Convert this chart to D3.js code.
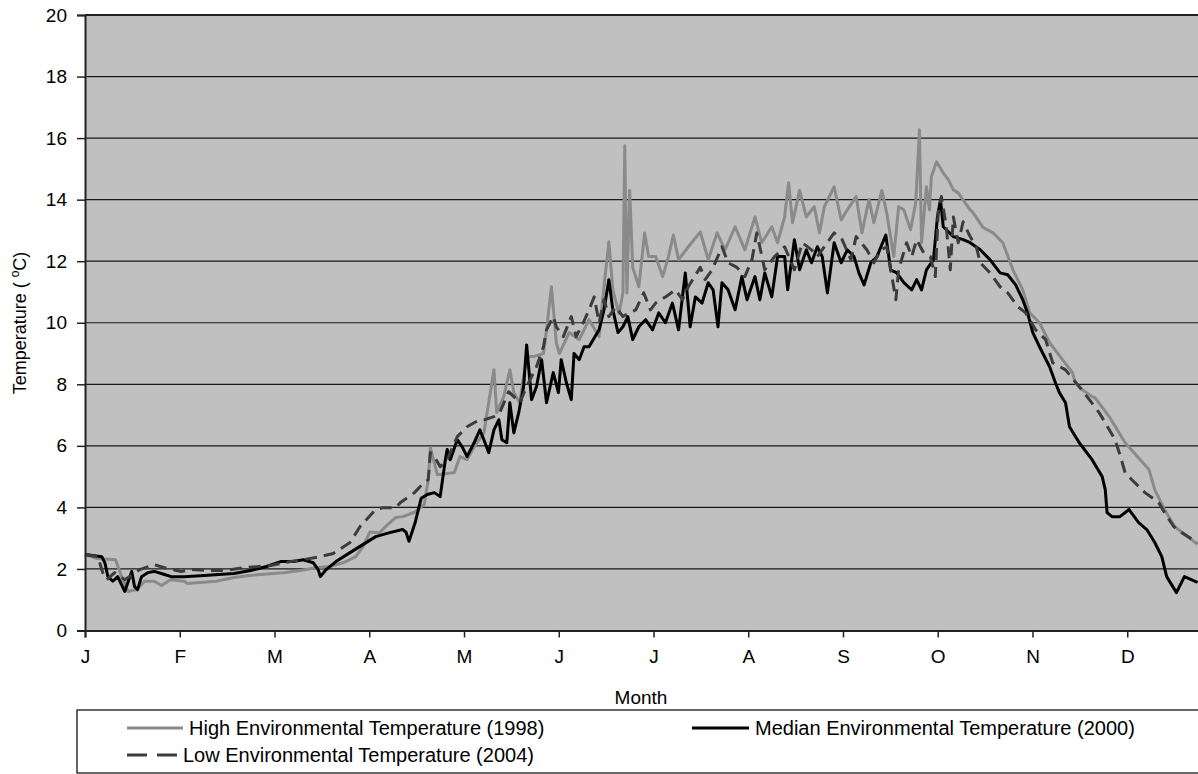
<!DOCTYPE html>
<html>
<head>
<meta charset="utf-8">
<script src="https://cdn.jsdelivr.net/npm/d3@7"></script>
<style>
  html, body { margin: 0; padding: 0; background: #fff; }
  svg { display: block; font-family: "Liberation Sans", Arial, sans-serif; }
</style>
</head>
<body>
<svg id="chart" width="1198" height="774"></svg>
<script>
// ---- data (day of year, °C) ----
const monthLabels = ["J","F","M","A","M","J","J","A","S","O","N","D"];
const monthTickDays = [0,31,62,93,124,155,186,217,248,279,310,341];
const yTickValues = [0,2,4,6,8,10,12,14,16,18,20];

const high1998 = [
[0,2.47],[4,2.34],[10,2.3],[12,1.75],[14,1.27],[17,1.33],[19.5,1.6],[22.7,1.6],[25,1.46],[28,1.65],
[32.5,1.6],[33.4,1.53],[43,1.6],[48.7,1.72],[54,1.79],[65,1.88],[70.5,1.95],[75.6,2.04],[80,2.08],
[84.4,2.2],[88.6,2.4],[91,2.73],[93.2,3.2],[96.4,3.18],[98.4,3.38],[101.6,3.67],[104,3.7],[108,3.85],
[111,4.1],[112.3,4.9],[113,5.94],[115.3,5.06],[120.8,5.13],[122.7,5.65],[125,5.55],[127.3,5.97],
[130.5,6.42],[133.8,8.47],[134.7,7.08],[137,7.6],[139,8.47],[140.3,7.73],[142.2,7.4],[144.5,8.9],
[146.8,8.9],[150,9.0],[151,9.77],[152.6,11.17],[154.2,9.35],[155.2,9.0],[158.4,9.68],[161.7,9.45],
[164.9,10.1],[168.2,9.55],[169.8,11.17],[171.4,12.63],[172.7,11.07],[174.7,10.3],[176,10.97],
[176.6,15.75],[177.3,10.97],[178.2,14.3],[179.2,11.8],[181.2,11.17],[183.1,12.92],[184.4,12.15],
[186.7,12.15],[189,11.5],[190.9,12.15],[192.5,12.85],[194.2,12.05],[197.4,12.47],[201.3,12.95],
[203.9,12.05],[206.8,12.92],[209.4,12.37],[212.7,13.12],[215.9,12.37],[219.2,13.44],[221.4,12.6],
[224.7,13.12],[226.6,12.6],[228.9,13.44],[230.2,14.55],[231.5,13.25],[233.8,14.3],[236,13.44],
[238.6,13.77],[240.3,12.92],[241.9,13.77],[245.1,14.42],[247.4,13.34],[249.4,13.67],[252.3,14.1],
[254.2,12.92],[256.5,14.0],[258.1,13.25],[260.7,14.3],[262.3,13.57],[264.6,12.15],[266.2,13.77],
[267.9,13.67],[270.1,13.02],[271.8,13.9],[273,16.27],[273.7,12.6],[275.3,14.42],[276.3,13.67],
[276.9,14.74],[278.6,15.23],[280.8,14.87],[282.5,14.64],[284.1,14.32],[285.7,14.22],[289.6,13.67],
[290.6,13.57],[293.8,13.1],[297.1,12.92],[300.3,12.6],[303.6,11.72],[306.8,11.07],[309.1,10.32],
[312.3,10.0],[315.6,9.35],[319.8,8.8],[323.1,8.38],[324,8.05],[326.3,7.82],[329.5,7.6],[330.5,7.56],
[335.1,6.95],[340.3,6.1],[348.1,5.23],[350,4.58],[353.2,3.93],[356.5,3.38],[364,2.8]
];

const median2000 = [
[0,2.47],[5.5,2.4],[6.5,2.2],[7.5,1.75],[9.1,1.6],[10.7,1.75],[13,1.27],[15.3,1.92],[16.2,1.43],
[17.2,1.33],[18.5,1.75],[20.5,1.88],[22.7,1.92],[26,1.82],[28.2,1.75],[32.5,1.75],[39,1.79],
[48.7,1.85],[54.2,1.95],[59.4,2.08],[64,2.24],[68.2,2.24],[71.4,2.3],[74.7,2.2],[76.3,1.98],[77,1.75],
[78.9,1.98],[82.1,2.24],[86.7,2.53],[90.9,2.79],[95.1,3.05],[99.7,3.18],[103.9,3.28],[105,3.2],
[106,2.9],[108,3.5],[110,4.3],[112,4.42],[114.3,4.48],[116.2,4.35],[117.9,5.55],[118.5,5.88],
[119.5,5.55],[121.8,6.2],[123.4,5.97],[125,5.65],[127.3,6.1],[129.2,6.52],[130.5,6.2],[132.1,5.78],
[133.8,6.52],[135.4,6.85],[136.4,6.2],[138,6.1],[139,7.4],[140.3,6.42],[141.9,7.08],[143.5,7.92],
[144.5,9.28],[146.1,7.5],[147.7,7.92],[149.4,8.8],[151,7.4],[153.2,8.38],[154.9,7.73],[155.8,8.8],
[157.5,8.05],[159.1,7.5],[160,9.0],[161.7,8.8],[163.3,9.22],[164.9,9.22],[168.2,9.77],[169.8,10.42],
[171.4,11.4],[172.7,10.42],[174.4,9.68],[176,9.87],[177.6,10.2],[179.2,9.45],[181.2,9.87],[183.4,10.1],
[185.7,9.77],[187.7,10.32],[189.9,10.0],[192.2,10.64],[194.2,9.77],[196.4,11.62],[198,9.87],
[199.7,10.84],[201.9,10.64],[203.9,11.3],[205.5,11.07],[207.1,9.87],[208.4,11.3],[210.4,11.07],
[212.7,10.42],[214.9,11.5],[216.6,10.75],[219.2,11.5],[220.8,10.75],[222.4,11.62],[224.7,10.84],
[226.6,12.15],[228.9,12.15],[229.9,11.07],[232.1,12.7],[233.8,11.72],[236,12.37],[237.7,11.95],
[239.6,12.47],[241.2,12.15],[242.9,10.97],[245.1,12.6],[247.4,11.95],[249.4,12.37],[251.6,12.15],
[253.2,11.62],[254.9,11.23],[257.1,11.95],[259.1,12.15],[262,12.85],[263.6,11.72],[265.6,11.62],
[267.9,11.3],[270.5,11.07],[272.1,11.4],[273.7,11.07],[275.3,11.72],[277.6,12.05],[278.9,13.44],
[279.9,14.0],[280.8,13.12],[284.1,12.8],[287.3,12.7],[289.6,12.6],[292.9,12.37],[296.1,12.05],
[299.4,11.62],[301.9,11.56],[304.5,11.23],[306.8,10.75],[308.4,10.32],[310.1,9.68],[312.3,9.22],
[315.6,8.57],[317.5,8.05],[318.8,7.73],[320.8,7.4],[322.1,6.62],[325.3,6.1],[329.5,5.55],[332.8,5.0],
[333.8,4.58],[334.4,3.83],[336,3.7],[338.6,3.7],[341.6,3.93],[344.8,3.5],[347.4,3.28],[350,2.86],
[352.3,2.4],[353.9,1.75],[357.1,1.23],[359.7,1.75],[364,1.56]
];

const low2004 = [
[0,2.47],[4.2,2.4],[5.8,1.88],[7.1,1.65],[9.7,1.88],[13,1.65],[17.9,1.98],[22.7,2.14],[26,2.04],
[31.5,1.92],[34.7,1.98],[41.2,1.95],[45.5,1.95],[52,2.04],[60.7,2.11],[67.2,2.24],[71.4,2.3],[77,2.4],
[81.2,2.5],[86.7,2.86],[90,3.38],[95.1,3.93],[97.4,3.99],[101.6,3.99],[103.2,4.16],[107.8,4.48],
[109.7,4.68],[112.3,4.9],[113,5.78],[114.3,5.65],[116.2,5.32],[118.5,5.55],[121.8,6.3],[125,6.62],
[127.3,6.75],[129.2,6.85],[130.8,6.85],[133.8,6.95],[135.7,7.08],[138.6,7.76],[140.3,7.6],[142.2,7.4],
[144.5,7.92],[147.7,8.57],[150,9.22],[151,9.77],[153.2,10.2],[154.2,9.87],[156.5,9.55],[159.1,10.2],
[160.7,9.55],[163,10.0],[164.9,10.42],[166.6,10.84],[168.2,10.0],[169.8,10.75],[171.4,10.2],
[173.7,10.52],[176,10.2],[177.9,10.32],[180.2,10.42],[182.8,10.97],[185,10.42],[186.7,10.64],
[189.9,10.84],[193.2,11.07],[195.5,10.75],[197.4,11.17],[201.3,11.8],[202.9,11.4],[205.2,11.72],
[208.4,12.47],[210.4,11.95],[213.3,11.8],[215.9,11.5],[218.2,12.05],[219.8,12.92],[222.4,11.72],
[225.6,12.15],[228.9,12.47],[232.1,11.72],[234.7,12.6],[237.7,12.37],[239.6,12.15],[245.1,12.92],
[247.7,12.7],[250.6,12.05],[252.3,12.8],[255.8,12.37],[258.1,11.95],[260.4,12.37],[262.3,12.47],
[265.3,10.75],[266.2,11.72],[268.8,12.6],[270.5,12.15],[272.1,12.7],[274.4,12.27],[276.6,12.15],
[278.2,11.5],[279.2,13.67],[280.2,14.1],[281.8,13.12],[283.1,11.72],[284.1,13.44],[285.7,12.6],
[287.3,13.28],[289.6,12.8],[291.6,12.47],[292.9,11.95],[296.1,11.62],[299.4,11.17],[301.9,10.97],
[305.2,10.52],[307.8,10.32],[311,9.77],[314.3,9.45],[316.6,8.7],[320.8,8.47],[325.3,7.92],[328.6,7.5],
[331.8,7.08],[333.8,6.75],[337,6.2],[338.6,5.71],[340.3,5.13],[342.5,4.9],[346.8,4.48],[351.3,4.16],
[353.2,3.83],[356.2,3.38],[358.8,3.18],[364,2.86]
];

const seriesNames = ["High Environmental Temperature (1998)", "Median Environmental Temperature (2000)", "Low Environmental Temperature (2004)"];

// ---- layout ----
(function () {
const svg = d3.select("#chart");
const mLeft = 85, mTop = 15, mBottom = 630.5, mRight = 1222;
const x = d3.scaleLinear().domain([0, 372]).range([mLeft, mRight]);
const y = d3.scaleLinear().domain([0, 20]).range([mBottom, mTop]);

svg.append("rect").attr("x", mLeft).attr("y", mTop)
  .attr("width", mRight - mLeft).attr("height", mBottom - mTop).attr("fill", "#c0c0c0");

svg.append("g").selectAll("line").data(yTickValues.filter(v => v > 0 && v < 20)).join("line")
  .attr("x1", mLeft).attr("x2", mRight).attr("y1", d => y(d)).attr("y2", d => y(d))
  .attr("stroke", "#1a1a1a").attr("stroke-width", 1.2);
svg.append("line").attr("x1", mLeft).attr("x2", mRight).attr("y1", y(20)).attr("y2", y(20))
  .attr("stroke", "#222").attr("stroke-width", 2);

const line = d3.line().x(d => x(d[0])).y(d => y(d[1]));
const plot = svg.append("g");
plot.append("path").datum(high1998).attr("d", line).attr("fill", "none")
  .attr("stroke", "#8a8a8a").attr("stroke-width", 3).attr("stroke-linejoin", "round");
plot.append("path").datum(median2000).attr("d", line).attr("fill", "none")
  .attr("stroke", "#000").attr("stroke-width", 3).attr("stroke-linejoin", "round");
plot.append("path").datum(low2004).attr("d", line).attr("fill", "none")
  .attr("stroke", "#3c3c3c").attr("stroke-width", 3).attr("stroke-dasharray", "12,7")
  .attr("stroke-linejoin", "round");

const yAxis = d3.axisLeft(y).tickValues(yTickValues).tickSize(8).tickPadding(10).tickFormat(d3.format("d"));
const gy = svg.append("g").attr("transform", `translate(${mLeft},0)`).call(yAxis);
gy.select(".domain").attr("stroke", "#222").attr("stroke-width", 2);
gy.selectAll(".tick line").attr("stroke", "#222").attr("stroke-width", 1.5);
gy.selectAll(".tick text").attr("font-size", 19).attr("fill", "#000")
  .attr("font-family", "Liberation Sans, Arial, sans-serif");

const xAxis = d3.axisBottom(x).tickValues(monthTickDays).tickSize(7).tickPadding(12)
  .tickFormat((d, i) => monthLabels[i]);
const gx = svg.append("g").attr("transform", `translate(0,${mBottom})`).call(xAxis);
gx.select(".domain").attr("stroke", "#222").attr("stroke-width", 2);
gx.selectAll(".tick line").attr("stroke", "#222").attr("stroke-width", 1.5);
gx.selectAll(".tick text").attr("font-size", 19).attr("fill", "#000")
  .attr("font-family", "Liberation Sans, Arial, sans-serif");

svg.append("text").attr("x", 641).attr("y", 704).attr("text-anchor", "middle")
  .attr("font-size", 19).text("Month");
const yt = svg.append("text").attr("transform", "translate(26,323) rotate(-90)")
  .attr("text-anchor", "middle").attr("font-size", 18);
yt.append("tspan").text("Temperature ( ");
yt.append("tspan").attr("baseline-shift", "super").attr("font-size", 12).text("o");
yt.append("tspan").text("C)");

const lg = svg.append("g");
lg.append("rect").attr("x", 77).attr("y", 710).attr("width", 1140).attr("height", 63)
  .attr("fill", "#fff").attr("stroke", "#000").attr("stroke-width", 1.2);
const legendItems = [
  {name: seriesNames[0], x1: 127, x2: 183, y: 728, color: "#8a8a8a", dash: null},
  {name: seriesNames[1], x1: 692, x2: 749, y: 728, color: "#000", dash: null},
  {name: seriesNames[2], x1: 127, x2: 177, y: 755, color: "#3c3c3c", dash: "20,10"}
];
legendItems.forEach(it => {
  lg.append("line").attr("x1", it.x1).attr("x2", it.x2).attr("y1", it.y).attr("y2", it.y)
    .attr("stroke", it.color).attr("stroke-width", 3).attr("stroke-dasharray", it.dash);
  lg.append("text").attr("x", it.x2 + 6).attr("y", it.y + 7).attr("font-size", 20).text(it.name);
});
})();
</script>
</body>
</html>
